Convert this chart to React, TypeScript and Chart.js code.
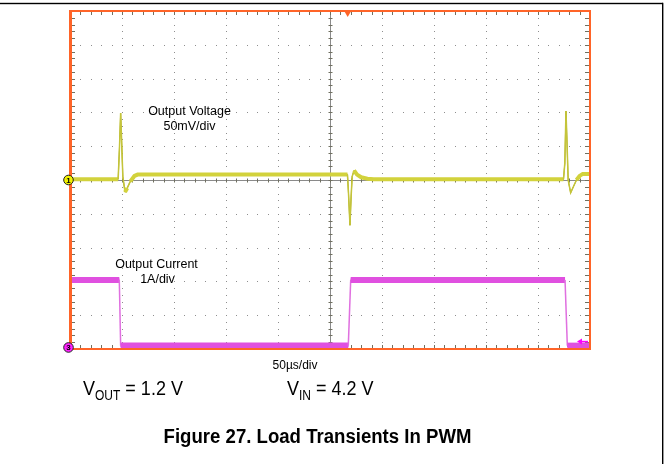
import React, { useEffect, useRef } from "react";
import { Chart, registerables } from "chart.js";
Chart.register(...registerables);

// ---- data read from the scope shot (time in µs, 50 µs/div) ----
const voltTimeUs = [0, 46.3, 47.5, 48.7, 49.6, 50.8, 52.9, 55, 58, 62, 65, 266.8, 267.8, 269.2, 270.3, 271.3, 273.1, 276, 280, 286, 292, 474.5, 475.8, 476.9, 477.8, 479, 481.4, 484, 487, 490, 493, 500];
const voltMv = [1, 1, 45, 99, 60, 5, -18, -12, -2, 6, 8, 8, -20, -67, -25, 5, 14, 8, 4, 2, 1, 1, 25, 102, 60, 0, -19, -10, 0, 6, 9, 9];

const currTimeUs = [0, 47.4, 48.7, 267.6, 269.9, 476, 478.2, 500];
const currAmp = [1.98, 1.98, 0.04, 0.04, 1.98, 1.98, 0.04, 0.04];

const xDivTicksUs = [0, 50, 100, 150, 200, 250, 300, 350, 400, 450, 500];
const triggerTimeUs = 267;

const VOLT_MV_PER_DIV = 50;
const VOLT_ZERO_DIV = 5;
const CURR_A_PER_DIV = 1;
const CURR_ZERO_DIV = 0.06;

const FONT = '"Liberation Sans", Arial, Helvetica, sans-serif';

const steep = (c: any) => {
  const dy = Math.abs(c.p1.y - c.p0.y);
  const dx = Math.abs(c.p1.x - c.p0.x);
  return dy > 6 && dy > 2 * dx;
};

const scopePlugin = {
  id: "scope",
  beforeDatasetsDraw(chart: any) {
    const { ctx, chartArea: a, scales } = chart;
    const x = scales.x, y = scales.y;
    ctx.save();
    // page frame
    ctx.fillStyle = "#000";
    ctx.fillRect(0, 2.8, 663, 1.4);
    ctx.fillRect(662, 2.8, 1.4, 470);
    // dotted graticule
    ctx.fillStyle = "#8e8e8e";
    for (let i = 1; i < xDivTicksUs.length - 1; i++) {
      if (i === 5) continue;
      const px = Math.round(x.getPixelForValue(xDivTicksUs[i]));
      for (let k = 1; k < 50; k++) {
        const py = Math.round(y.getPixelForValue(k * 0.2));
        ctx.fillRect(px, py, 1, 1);
      }
    }
    for (let j = 1; j < 10; j++) {
      if (j === 5) continue;
      const py = Math.round(y.getPixelForValue(j));
      for (let k = 1; k < 50; k++) {
        const px = Math.round(x.getPixelForValue(k * 10));
        ctx.fillRect(px, py, 1, 1);
      }
    }
    // centre cross
    const cx = Math.round(x.getPixelForValue(250)) + 0.5;
    const cy = Math.round(y.getPixelForValue(5)) + 0.5;
    ctx.strokeStyle = "#8a8a8a";
    ctx.lineWidth = 1;
    ctx.beginPath();
    ctx.moveTo(cx, a.top); ctx.lineTo(cx, a.bottom);
    ctx.moveTo(a.left, cy); ctx.lineTo(a.right, cy);
    ctx.stroke();
    ctx.strokeStyle = "#707060";
    ctx.beginPath();
    for (let k = 1; k < 50; k++) {
      const px = Math.round(x.getPixelForValue(k * 10)) + 0.5;
      const py = Math.round(y.getPixelForValue(k * 0.2)) + 0.5;
      ctx.moveTo(px, cy - 2); ctx.lineTo(px, cy + 2);
      ctx.moveTo(cx - 2, py); ctx.lineTo(cx + 2, py);
      // edges
      ctx.moveTo(px, a.top); ctx.lineTo(px, a.top + 4);
      ctx.moveTo(px, a.bottom); ctx.lineTo(px, a.bottom - 4);
      ctx.moveTo(a.left, py); ctx.lineTo(a.left + 5, py);
      ctx.moveTo(a.right, py); ctx.lineTo(a.right - 5, py);
    }
    ctx.stroke();
    ctx.restore();
  },
  afterDatasetsDraw(chart: any) {
    const { ctx, chartArea: a, scales } = chart;
    const x = scales.x, y = scales.y;
    ctx.save();
    // orange frame
    ctx.strokeStyle = "#ff6428";
    ctx.lineWidth = 2;
    ctx.strokeRect(a.left, a.top, a.right - a.left, a.bottom - a.top);
    ctx.fillStyle = "#ff6428";
    ctx.fillRect(a.left - 1, a.top - 1, 3, a.bottom - a.top + 2);
    // trigger position marker
    const tx = x.getPixelForValue(triggerTimeUs);
    ctx.beginPath();
    ctx.moveTo(tx - 3.5, a.top);
    ctx.lineTo(tx + 3.5, a.top);
    ctx.lineTo(tx, a.top + 6);
    ctx.closePath();
    ctx.fill();
    // trigger level arrow (right, magenta)
    const ty = y.getPixelForValue(CURR_ZERO_DIV + 0.16 * CURR_A_PER_DIV);
    ctx.strokeStyle = "#ff00ff";
    ctx.fillStyle = "#ff00ff";
    ctx.lineWidth = 1.5;
    ctx.beginPath();
    ctx.moveTo(a.right - 2, ty); ctx.lineTo(a.right - 9, ty);
    ctx.stroke();
    ctx.beginPath();
    ctx.moveTo(a.right - 13, ty); ctx.lineTo(a.right - 8, ty - 3); ctx.lineTo(a.right - 8, ty + 3);
    ctx.closePath(); ctx.fill();
    // channel ground markers
    const mark = (py: number, fill: string, label: string) => {
      const px = a.left - 1.5;
      ctx.beginPath();
      ctx.arc(px, py, 4.8, 0, Math.PI * 2);
      ctx.fillStyle = fill;
      ctx.fill();
      ctx.lineWidth = 1;
      ctx.strokeStyle = "#222";
      ctx.stroke();
      ctx.fillStyle = "#000";
      ctx.font = `bold 8px ${FONT}`;
      ctx.textAlign = "center";
      ctx.textBaseline = "middle";
      ctx.fillText(label, px, py + 0.5);
    };
    mark(y.getPixelForValue(VOLT_ZERO_DIV), "#f2f200", "1");
    mark(y.getPixelForValue(CURR_ZERO_DIV) + 0.5, "#ff20ff", "3");
    ctx.restore();
  },
};

export default function App() {
  const ref = useRef<HTMLCanvasElement>(null);
  useEffect(() => {
    if (!ref.current) return;
    const voltData = voltTimeUs.map((t, i) => ({ x: t, y: VOLT_ZERO_DIV + voltMv[i] / VOLT_MV_PER_DIV }));
    const currData = currTimeUs.map((t, i) => ({ x: t, y: CURR_ZERO_DIV + currAmp[i] / CURR_A_PER_DIV }));
    const chart = new Chart(ref.current, {
      type: "line",
      data: {
        datasets: [
          {
            label: "Output Voltage band",
            data: voltData,
            borderColor: "#d2d23c",
            borderWidth: 4,
            pointRadius: 0,
            tension: 0,
            segment: { borderWidth: (c: any) => (steep(c) ? 1.5 : undefined), borderColor: (c: any) => (steep(c) ? "#c4c43a" : undefined) },
          },
          {
            label: "Output Voltage",
            data: voltData,
            borderColor: "#a0a000",
            borderWidth: 1.5,
            pointRadius: 0,
            tension: 0,
            segment: { borderWidth: (c: any) => (steep(c) ? 1 : undefined) },
          },
          {
            label: "Output Current band",
            data: currData,
            borderColor: "#e050e0",
            borderWidth: 6,
            pointRadius: 0,
            tension: 0,
            segment: { borderWidth: (c: any) => (steep(c) ? 1.5 : undefined), borderColor: (c: any) => (steep(c) ? "#e070e0" : undefined) },
          },
          {
            label: "Output Current",
            data: currData,
            borderColor: "#b000b0",
            borderWidth: 3,
            pointRadius: 0,
            tension: 0,
            segment: { borderWidth: (c: any) => (steep(c) ? 0.01 : undefined), borderColor: (c: any) => (steep(c) ? "rgba(0,0,0,0)" : undefined) },
          },
        ],
      },
      options: {
        animation: false,
        responsive: false,
        maintainAspectRatio: false,
        devicePixelRatio: 1,
        layout: { padding: { left: 70, right: 79, top: 11, bottom: 115 } },
        plugins: { legend: { display: false }, title: { display: false }, tooltip: { enabled: false } },
        events: [],
        scales: {
          x: { type: "linear", min: 0, max: 500, display: false },
          y: { type: "linear", min: 0, max: 10, display: false },
        },
      },
      plugins: [scopePlugin],
    } as any);
    return () => chart.destroy();
  }, []);

  const abs = (s: React.CSSProperties): React.CSSProperties => ({ position: "absolute", whiteSpace: "nowrap", lineHeight: 1, fontFamily: FONT, color: "#000", ...s });

  return (
    <div style={{ position: "absolute", left: 0, top: 0, width: 669, height: 464, background: "#fff", overflow: "hidden" }}>
      <canvas ref={ref} width={669} height={464} style={{ position: "absolute", left: 0, top: 0, width: 669, height: 464 }} />
      <div style={abs({ left: 189.5, top: 104.6, fontSize: 12.5, transform: "translateX(-50%)" })}>Output Voltage</div>
      <div style={abs({ left: 189.5, top: 120, fontSize: 12.5, transform: "translateX(-50%)" })}>50mV/div</div>
      <div style={abs({ left: 156.5, top: 257.7, fontSize: 12.5, transform: "translateX(-50%)" })}>Output Current</div>
      <div style={abs({ left: 157.5, top: 273.4, fontSize: 12.5, transform: "translateX(-50%)" })}>1A/div</div>
      <div style={abs({ left: 295, top: 359.2, fontSize: 12, transform: "translateX(-50%)" })}>50µs/div</div>
      <div style={abs({ left: 83, top: 378, fontSize: 18, transform: "scaleY(1.16)", transformOrigin: "left top" })}>
        V<span style={{ fontSize: 12, position: "relative", top: 3.7 }}>OUT</span> = 1.2 V
      </div>
      <div style={abs({ left: 287, top: 378, fontSize: 18, transform: "scaleY(1.16)", transformOrigin: "left top" })}>
        V<span style={{ fontSize: 12, position: "relative", top: 3.7 }}>IN</span> = 4.2 V
      </div>
      <div style={abs({ left: 317.5, top: 426.6, fontSize: 18.6, fontWeight: "bold", transform: "translateX(-50%) scaleY(1.1)", transformOrigin: "center top" })}>
        Figure 27. Load Transients In PWM
      </div>
    </div>
  );
}
